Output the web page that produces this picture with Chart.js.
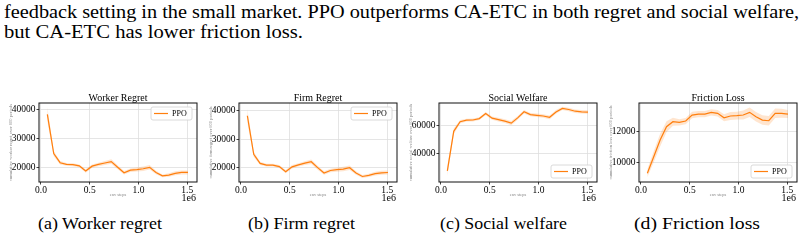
<!DOCTYPE html>
<html>
<head>
<meta charset="utf-8">
<script src="https://cdn.jsdelivr.net/npm/chart.js@4.4.1/dist/chart.umd.min.js"></script>
<style>
  body { margin: 0; width: 806px; height: 240px; background: #fff; position: relative; overflow: hidden;
         font-family: 'Liberation Serif', 'Times New Roman', Times, 'DejaVu Serif', serif; color: #000; }
  .txt { position: absolute; white-space: nowrap; transform-origin: 0 0; }
  .para { font-size: 19px; line-height: 19px; left: 4px; }
  .cap { font-size: 17.5px; line-height: 17.5px; }
  canvas { position: absolute; top: 88px; }
</style>
</head>
<body>
<div class="txt para" style="top:1.5px" data-w="795">feedback setting in the small market. PPO outperforms CA-ETC in both regret and social welfare,</div>
<div class="txt para" style="top:21.5px" data-w="299">but CA-ETC has lower friction loss.</div>

<canvas id="c0" width="200" height="115" style="left:0px"></canvas>
<canvas id="c1" width="200" height="115" style="left:200px"></canvas>
<canvas id="c2" width="200" height="115" style="left:400px"></canvas>
<canvas id="c3" width="200" height="115" style="left:600px"></canvas>

<div class="txt cap" style="top:215px;left:38px" data-w="124">(a) Worker regret</div>
<div class="txt cap" style="top:215px;left:248px" data-w="107">(b) Firm regret</div>
<div class="txt cap" style="top:215px;left:440px" data-w="127">(c) Social welfare</div>
<div class="txt cap" style="top:215px;left:634px" data-w="126">(d) Friction loss</div>

<script>
// env steps at which the policy was evaluated
const steps = [65536, 131072, 196608, 262144, 327680, 393216, 458752, 524288, 589824, 655360, 720896, 786432,
               851968, 917504, 983040, 1048576, 1114112, 1179648, 1245184, 1310720, 1376256, 1441792, 1507328];

const workerRegret = [38500, 24800, 21600, 21000, 20900, 20500, 18700, 20400, 21000, 21500, 22000, 20000,
                      18100, 19000, 19200, 19500, 20000, 18200, 17000, 17300, 17900, 18200, 18200];
const workerBand = [2500, 900, 600, 500, 500, 500, 600, 600, 600, 700, 800, 700,
                    600, 600, 700, 800, 800, 600, 500, 600, 700, 700, 700];

const firmRegret = [38300, 24700, 21500, 20900, 20900, 20400, 18600, 20300, 21000, 21600, 22100, 20000,
                    18100, 19000, 19300, 19500, 20000, 18100, 16900, 17300, 17900, 18200, 18300];
const firmBand = [2500, 900, 600, 500, 500, 500, 600, 600, 600, 700, 800, 700,
                  600, 600, 700, 800, 800, 600, 500, 600, 700, 700, 700];

const socialWelfare = [28000, 56000, 62800, 63900, 64000, 65000, 68500, 65300, 64300, 63200, 61800, 65500,
                       69800, 67800, 67300, 66800, 65900, 69700, 72200, 71400, 70200, 69800, 69600];
const socialBand = [3500, 2000, 1200, 1000, 1000, 1000, 1200, 1200, 1300, 1400, 1500, 1400,
                    1300, 1200, 1200, 1200, 1300, 1300, 1200, 1200, 1200, 1200, 1200];

const frictionLoss = [9330, 10380, 11430, 12270, 12590, 12550, 12630, 13010, 13070, 13070, 13180, 13120,
                      12840, 12950, 12970, 13010, 13180, 12900, 12690, 12650, 13120, 13120, 13070];
const frictionBand = [250, 350, 400, 350, 250, 200, 200, 200, 200, 200, 200, 200,
                      220, 250, 250, 280, 300, 300, 300, 300, 300, 280, 250];

const xTicks = [0, 500000, 1000000, 1500000];
const regretTicks = [20000, 30000, 40000];
const welfareTicks = [40000, 60000];
const frictionTicks = [10000, 12000];

const seriesName = 'PPO';
const orange = '#ff7f0e';
const serifFamily = "'Liberation Serif', 'Times New Roman', Times, 'DejaVu Serif', serif";

Chart.defaults.font.family = serifFamily;
Chart.defaults.color = '#000';

// stretch text lines to the width they have in the figure
document.querySelectorAll('[data-w]').forEach(el => {
    const w = el.getBoundingClientRect().width;
    el.style.transform = 'scaleX(' + (el.dataset.w / w) + ')';
});

const panels = [
    { id: 'c0', title: 'Worker Regret', ylabel: 'cumulative worker regret over 600 periods',
      mean: workerRegret, band: workerBand, yMin: 14870, yMax: 42440, yTicks: regretTicks, legendTop: true },
    { id: 'c1', title: 'Firm Regret', ylabel: 'cumulative firm regret over 600 periods',
      mean: firmRegret, band: firmBand, yMin: 14950, yMax: 42800, yTicks: regretTicks, legendTop: true },
    { id: 'c2', title: 'Social Welfare', ylabel: 'cumulative social welfare over 600 periods',
      mean: socialWelfare, band: socialBand, yMin: 20200, yMax: 76000, yTicks: welfareTicks, legendTop: false },
    { id: 'c3', title: 'Friction Loss', ylabel: 'cumulative friction loss over 600 periods',
      mean: frictionLoss, band: frictionBand, yMin: 8780, yMax: 13770, yTicks: frictionTicks, legendTop: false },
];

// frame, title, axis labels, offset text and legend, matplotlib style
const decor = {
    id: 'decor',
    afterDraw(chart, args, opts) {
        const ctx = chart.ctx;
        const a = chart.chartArea;
        ctx.save();
        ctx.strokeStyle = '#111';
        ctx.lineWidth = 1;
        ctx.strokeRect(a.left, a.top, a.right - a.left, a.bottom - a.top);

        ctx.fillStyle = '#000';
        ctx.textAlign = 'center';
        ctx.textBaseline = 'alphabetic';
        ctx.font = '10px ' + serifFamily;
        ctx.fillText(opts.title, (a.left + a.right) / 2, a.top - 2);

        ctx.fillStyle = '#888';
        ctx.font = '4.5px ' + serifFamily;
        ctx.fillText('env steps', (a.left + a.right) / 2, a.bottom + 14);
        ctx.save();
        ctx.translate(11, (a.top + a.bottom) / 2);
        ctx.rotate(-Math.PI / 2);
        ctx.textBaseline = 'middle';
        ctx.fillText(opts.ylabel, 0, 0);
        ctx.restore();

        ctx.fillStyle = '#000';
        ctx.font = '10px ' + serifFamily;
        ctx.textAlign = 'right';
        ctx.fillText('1e6', a.right - 1, a.bottom + 19);

        const w = 41, h = 13;
        const bx = a.right - 5 - w;
        const by = opts.legendTop ? a.top + 4 : a.bottom - 4 - h;
        ctx.fillStyle = 'rgba(255,255,255,0.85)';
        ctx.strokeStyle = '#d0d0d0';
        ctx.lineWidth = 0.8;
        ctx.beginPath();
        ctx.roundRect(bx, by, w, h, 2);
        ctx.fill();
        ctx.stroke();
        ctx.strokeStyle = orange;
        ctx.lineWidth = 1.2;
        ctx.beginPath();
        ctx.moveTo(bx + 3, by + h / 2);
        ctx.lineTo(bx + 17, by + h / 2);
        ctx.stroke();
        ctx.fillStyle = '#000';
        ctx.font = '8px ' + serifFamily;
        ctx.textAlign = 'left';
        ctx.textBaseline = 'middle';
        ctx.fillText(seriesName, bx + 21, by + h / 2 + 0.5);
        ctx.restore();
    }
};

const tickFont = { family: serifFamily, size: 9.5 };
const gridStyle = { color: '#dedede', lineWidth: 0.8, tickLength: 2.5, tickColor: '#111', tickWidth: 0.8 };

panels.forEach(p => {
    const upper = p.mean.map((v, i) => ({ x: steps[i], y: v + p.band[i] }));
    const lower = p.mean.map((v, i) => ({ x: steps[i], y: v - p.band[i] }));
    const line = p.mean.map((v, i) => ({ x: steps[i], y: v }));

    new Chart(document.getElementById(p.id), {
        type: 'line',
        data: {
            datasets: [
                { label: seriesName, data: line, borderColor: orange, borderWidth: 1.2,
                  pointRadius: 0, fill: false, order: 0 },
                { data: upper, borderWidth: 0, pointRadius: 0, fill: '+1',
                  backgroundColor: 'rgba(255,127,14,0.2)', order: 1 },
                { data: lower, borderWidth: 0, pointRadius: 0, fill: false, order: 1 },
            ],
        },
        options: {
            responsive: false,
            animation: false,
            devicePixelRatio: 1,
            layout: { padding: { left: 0, right: 3, top: 15, bottom: 0 } },
            plugins: {
                legend: { display: false },
                tooltip: { enabled: false },
                decor: { title: p.title, ylabel: p.ylabel, legendTop: p.legendTop },
            },
            scales: {
                x: {
                    type: 'linear',
                    min: -20000,
                    max: 1600000,
                    afterBuildTicks: s => { s.ticks = xTicks.map(v => ({ value: v })); },
                    afterFit: s => { s.height = 21; },
                    ticks: { font: tickFont, color: '#000', padding: 0, maxRotation: 0, autoSkip: false,
                             callback: v => (v / 1e6).toFixed(1) },
                    grid: gridStyle,
                    border: { display: false },
                },
                y: {
                    min: p.yMin,
                    max: p.yMax,
                    afterBuildTicks: s => { s.ticks = p.yTicks.map(v => ({ value: v })); },
                    afterFit: s => { s.width = 39; },
                    ticks: { font: tickFont, color: '#000', padding: 1, callback: v => String(v) },
                    grid: gridStyle,
                    border: { display: false },
                },
            },
        },
        plugins: [decor],
    });
});
</script>
</body>
</html>
